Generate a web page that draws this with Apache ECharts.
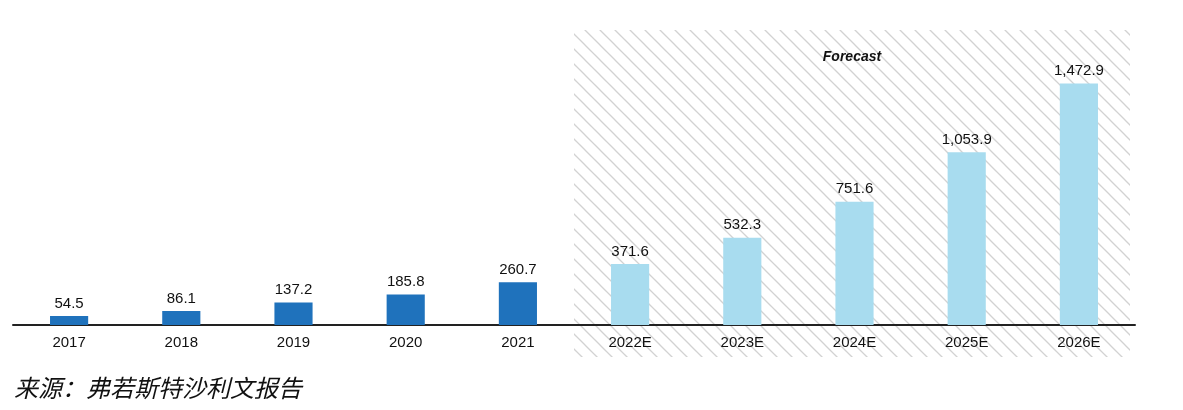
<!DOCTYPE html>
<html><head><meta charset="utf-8">
<script src="https://cdn.jsdelivr.net/npm/echarts@6/dist/echarts.min.js"></script>
<style>html,body{margin:0;padding:0;background:#fff}#c{width:1183px;height:410px}</style>
</head><body><div id="c"></div>
<script>
const categories = ['2017','2018','2019','2020','2021','2022E','2023E','2024E','2025E','2026E'];
const values = [54.5, 86.1, 137.2, 185.8, 260.7, 371.6, 532.3, 751.6, 1053.9, 1472.9];
const forecastStart = 5;
const forecastTitle = 'Forecast';
const sourceText = '来源：弗若斯特沙利文报告';

const chart = echarts.init(document.getElementById('c'));
const fmt = v => v.toLocaleString('en-US', {minimumFractionDigits:1, maximumFractionDigits:1});

// hatch pattern
const s = 15;
const pc = document.createElement('canvas');
pc.width = s; pc.height = s;
const ctx = pc.getContext('2d');
ctx.strokeStyle = '#d2d2d2';
ctx.lineWidth = 1.3;
[-s, 0, s].forEach(c => {
  ctx.beginPath(); ctx.moveTo(0 - 2, c - 2); ctx.lineTo(s + 2, s + c + 2); ctx.stroke();
});

chart.setOption({
  animation: false,
  grid: {left: 13, right: 48, top: 30, bottom: 85, containLabel: false},
  xAxis: {
    type: 'category', data: categories,
    axisLine: {lineStyle: {color: '#222', width: 2}},
    axisTick: {show: false},
    axisLabel: {color: '#111', fontSize: 15, fontFamily: 'Liberation Sans', margin: 10}
  },
  yAxis: {type: 'value', min: 0, max: 1800, show: false, splitLine: {show: false}},
  series: [{
    type: 'bar', data: values, barWidth: '34%', z: 3,
    itemStyle: {color: p => p.dataIndex < forecastStart ? '#1F72BC' : '#A8DCEF'},
    label: {show: true, position: 'top', distance: 5, color: '#111', fontSize: 15,
      fontFamily: 'Liberation Sans', formatter: p => fmt(p.value)}
  }]
});

const c0 = chart.convertToPixel({xAxisIndex: 0}, categories[0]);
const c1 = chart.convertToPixel({xAxisIndex: 0}, categories[1]);
const band = c1 - c0;
const xs = chart.convertToPixel({xAxisIndex: 0}, categories[forecastStart]) - band / 2;
const xe = chart.convertToPixel({xAxisIndex: 0}, categories[categories.length - 1]) + band / 2 - 5;
const yTop = chart.convertToPixel({yAxisIndex: 0}, 1800);
const y0 = chart.convertToPixel({yAxisIndex: 0}, 0);

chart.setOption({
  graphic: [
    {type: 'rect', z: 0, shape: {x: xs, y: yTop, width: xe - xs, height: y0 - yTop + 32},
     style: {fill: {image: pc, repeat: 'repeat'}}, silent: true},
    {type: 'text', z: 5, x: (xs + xe) / 2, y: yTop + 27,
     style: {text: forecastTitle, align: 'center', verticalAlign: 'middle', fill: '#111',
       font: 'italic bold 14px "Liberation Sans"'}},
    {type: 'text', z: 5, x: 14, y: 388,
     style: {text: sourceText, align: 'left', verticalAlign: 'middle', fill: '#111',
       font: 'italic 24px "Noto Sans CJK SC"'}}
  ]
});
</script></body></html>
